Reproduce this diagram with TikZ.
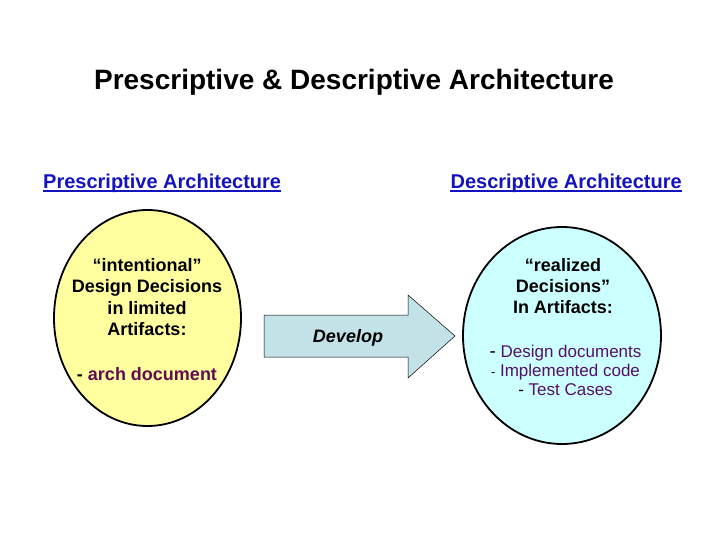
\documentclass[tikz,border=0pt]{standalone}
\usepackage{fontspec}
\setmainfont{Liberation Sans}
\usetikzlibrary{shapes.geometric}
\definecolor{ellyellow}{RGB}{255,255,160}
\definecolor{ellcyan}{RGB}{204,255,255}
\definecolor{arrowfill}{RGB}{194,226,232}
\definecolor{linkblue}{RGB}{20,20,190}
\definecolor{itempurple}{RGB}{100,10,80}
\definecolor{itempurple2}{RGB}{85,15,105}
\tikzset{
  blob/.style={ellipse, draw=black, line width=1.8pt, inner sep=0pt},
  heading/.style={font=\bfseries\fontsize{20}{24}\selectfont, text=linkblue, inner sep=0pt},
  headline/.style={draw=linkblue, line width=1.4pt},
  bodytext/.style={font=\bfseries\fontsize{18}{21.3}\selectfont, align=center, inner sep=0pt},
  itemtext/.style={font=\fontsize{17}{19}\selectfont, align=center, inner sep=0pt},
}
\begin{document}
\begin{tikzpicture}[x=1pt,y=-1pt]
\useasboundingbox (0,0) rectangle (720,540);
% title
\node[font=\bfseries\fontsize{28}{30}\selectfont] (title) at (354,82) {Prescriptive \& Descriptive Architecture};
% headings
\node[heading, anchor=west] (hpre) at (43,183) {Prescriptive Architecture};
\node[heading, anchor=east] (hdes) at (682,183) {Descriptive Architecture};
\draw[headline] ([yshift=-3pt]hpre.base west) -- ([yshift=-3pt]hpre.base east);
\draw[headline] ([yshift=-3pt]hdes.base west) -- ([yshift=-3pt]hdes.base east);
% ellipses
\node[blob, fill=ellyellow, minimum width=187pt, minimum height=216pt] (pre) at (147.5,318) {};
\node[blob, fill=ellcyan, minimum width=198pt, minimum height=217pt] (des) at (562,335.5) {};
% arrow
\filldraw[fill=arrowfill, draw=black, line width=0.5pt]
  (264,315) -- (408,315) -- (408,295) -- (455,336) -- (408,378) -- (408,357) -- (264,357) -- cycle;
\node[font=\bfseries\itshape\fontsize{18}{21}\selectfont, inner sep=0pt] (dev) at (348,338) {Develop};
% left text
\node[bodytext] (pretext) at (147,297) {``intentional''\\Design Decisions\\in limited\\Artifacts:};
\node[bodytext] (preitem) at (147,374) {- \textcolor{itempurple}{arch document}};
% right text
\node[bodytext] (destext) at (563,286) {``realized\\Decisions''\\In Artifacts:};
\node[itemtext] (desitems) at (565.5,370) {{\fontsize{19}{19}\selectfont -} \textcolor{itempurple2}{Design documents}\\{\fontsize{13}{19}\selectfont -} \textcolor{itempurple2}{Implemented code}\\- \textcolor{itempurple2}{Test Cases}};
\end{tikzpicture}
\end{document}
